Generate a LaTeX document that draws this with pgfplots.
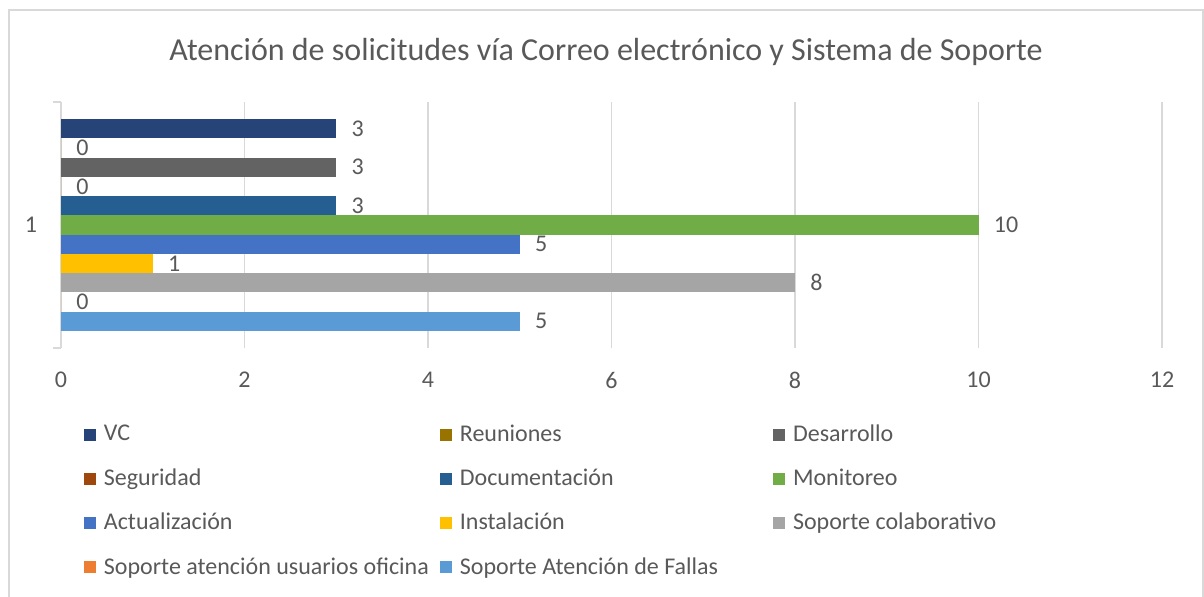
\documentclass[border=0pt]{standalone}
\usepackage{fontspec}
\setmainfont{Carlito}
\usepackage{pgfplots}
\pgfplotsset{compat=1.18}

\definecolor{cVC}{HTML}{264478}
\definecolor{cReu}{HTML}{997300}
\definecolor{cDes}{HTML}{636363}
\definecolor{cSeg}{HTML}{9E480E}
\definecolor{cDoc}{HTML}{255E91}
\definecolor{cMon}{HTML}{70AD47}
\definecolor{cAct}{HTML}{4472C4}
\definecolor{cIns}{HTML}{FFC000}
\definecolor{cCol}{HTML}{A5A5A5}
\definecolor{cOfi}{HTML}{ED7D31}
\definecolor{cFal}{HTML}{5B9BD5}
\definecolor{txt}{HTML}{595959}
\definecolor{gridc}{HTML}{D9D9D9}

\begin{document}
\begin{tikzpicture}
\path[use as bounding box] (0,0) rectangle (602pt,298pt);
\draw[gridc, line width=0.8pt] (4.5pt,-5pt) -- (4.5pt,293pt) -- (601.5pt,293pt) -- (601.5pt,-5pt);
\node[font=\fontsize{16}{19}\selectfont, text=txt] at (303pt,272pt)
  {Atención de solicitudes vía Correo electrónico y Sistema de Soporte};

\begin{axis}[
    at={(30.5pt,124pt)}, anchor=south west,
    scale only axis, width=550.5pt, height=123pt,
    xbar, bar width=9.635pt,
    xmin=0, xmax=12, ymin=0.5, ymax=1.5,
    xtick={0,2,...,12}, ytick={1},
    minor ytick={0.5,1.5},
    axis lines=left,
    axis line style={gridc, line width=0.8pt, -},
    x axis line style={draw=none},
    xmajorgrids,
    major grid style={gridc, line width=0.8pt},
    major tick length=0pt, minor tick length=4pt, tick align=outside,
    minor tick style={gridc, line width=0.8pt},
    tick label style={font=\fontsize{12}{14}\selectfont, text=txt},
    /pgf/number format/assume math mode=true,
    xticklabel style={anchor=center, yshift=-16pt},
    yticklabel style={anchor=center, xshift=-15pt},
    point meta=x,
    nodes near coords,
    every node near coord/.append style={font=\fontsize{12}{14}\selectfont, text=txt, anchor=west, inner sep=0pt, xshift=7.5pt},
    legend columns=3,
    legend cell align=left,
    legend style={draw=none, fill=none, at={(0.015,-0.278)}, anchor=north west,
      font=\fontsize{12}{14}\selectfont, text=txt, row sep=8.3pt,
      /tikz/every odd column/.style={column sep=2pt},
      /tikz/column 2/.style={column sep=3.5pt},
      /tikz/column 4/.style={column sep=25.5pt}},
    legend image code/.code={\draw[#1, draw=none] (0pt,-3pt) rectangle (6pt,3pt);},
]
\addplot[fill=cVC,  draw=none, bar shift=48.175pt]  coordinates {(3,1)};
\addlegendentry{VC}
\addplot[fill=cReu, draw=none, bar shift=38.54pt]   coordinates {(0,1)};
\addlegendentry{Reuniones}
\addplot[fill=cDes, draw=none, bar shift=28.905pt]  coordinates {(3,1)};
\addlegendentry{Desarrollo}
\addplot[fill=cSeg, draw=none, bar shift=19.27pt]   coordinates {(0,1)};
\addlegendentry{Seguridad}
\addplot[fill=cDoc, draw=none, bar shift=9.635pt]   coordinates {(3,1)};
\addlegendentry{Documentación}
\addplot[fill=cMon, draw=none, bar shift=0pt]       coordinates {(10,1)};
\addlegendentry{Monitoreo}
\addplot[fill=cAct, draw=none, bar shift=-9.635pt]  coordinates {(5,1)};
\addlegendentry{Actualización}
\addplot[fill=cIns, draw=none, bar shift=-19.27pt]  coordinates {(1,1)};
\addlegendentry{Instalación}
\addplot[fill=cCol, draw=none, bar shift=-28.905pt] coordinates {(8,1)};
\addlegendentry{Soporte colaborativo}
\addplot[fill=cOfi, draw=none, bar shift=-38.54pt]  coordinates {(0,1)};
\addlegendentry{Soporte atención usuarios oficina}
\addplot[fill=cFal, draw=none, bar shift=-48.175pt] coordinates {(5,1)};
\addlegendentry{Soporte Atención de Fallas}
\end{axis}
\end{tikzpicture}
\end{document}
